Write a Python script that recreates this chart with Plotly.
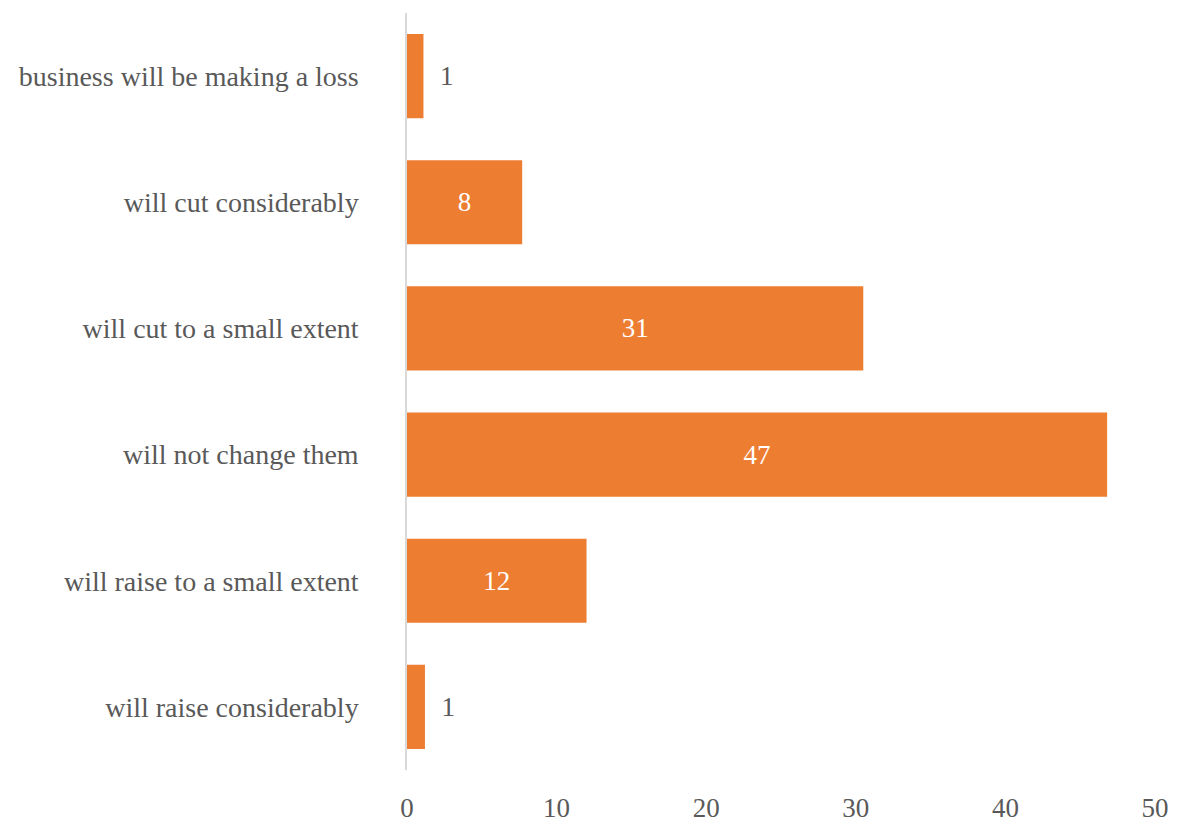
import plotly.graph_objects as go

categories = ["business will be making a loss", "will cut considerably", "will cut to a small extent",
              "will not change them", "will raise to a small extent", "will raise considerably"]
values = [1.1, 7.7, 30.5, 46.8, 12.0, 1.2]
labels = ["1", "8", "31", "47", "12", "1"]
label_pos = ["outside", "inside", "inside", "inside", "inside", "outside"]
x_ticks = [0, 10, 20, 30, 40, 50]

FONT = "Liberation Serif"
GRAY = "#595959"

templates = ["  %{text}" if p == "outside" else "%{text}" for p in label_pos]

fig = go.Figure(go.Bar(
    y=categories, x=values, orientation="h",
    marker=dict(color="#ED7D31", line=dict(width=0)),
    text=labels, texttemplate=templates, textposition=label_pos, insidetextanchor="middle",
    insidetextfont=dict(color="white", size=27, family=FONT),
    outsidetextfont=dict(color=GRAY, size=27, family=FONT),
    textangle=0, cliponaxis=False, hoverinfo="skip",
))

fig.update_layout(
    width=1181, height=825,
    margin=dict(l=407, r=26, t=13, b=55),
    plot_bgcolor="white", paper_bgcolor="white",
    bargap=0.333, showlegend=False,
    font=dict(family=FONT, size=27, color=GRAY),
)
fig.update_xaxes(range=[0, 50], tickvals=x_ticks, showgrid=False, zeroline=False,
                 showline=False, ticks="", tickfont=dict(size=27, color=GRAY),
                 ticklabelstandoff=19, automargin=False)
fig.update_yaxes(autorange="reversed", showgrid=False, showline=True, linecolor="#D9D9D9",
                 linewidth=1.5, ticks="", tickfont=dict(size=28, color=GRAY),
                 ticklabelstandoff=41, automargin=False)

fig.write_html("out.html", config={"displayModeBar": False},
               post_script="document.body.style.margin='0';document.body.style.overflow='hidden';")
